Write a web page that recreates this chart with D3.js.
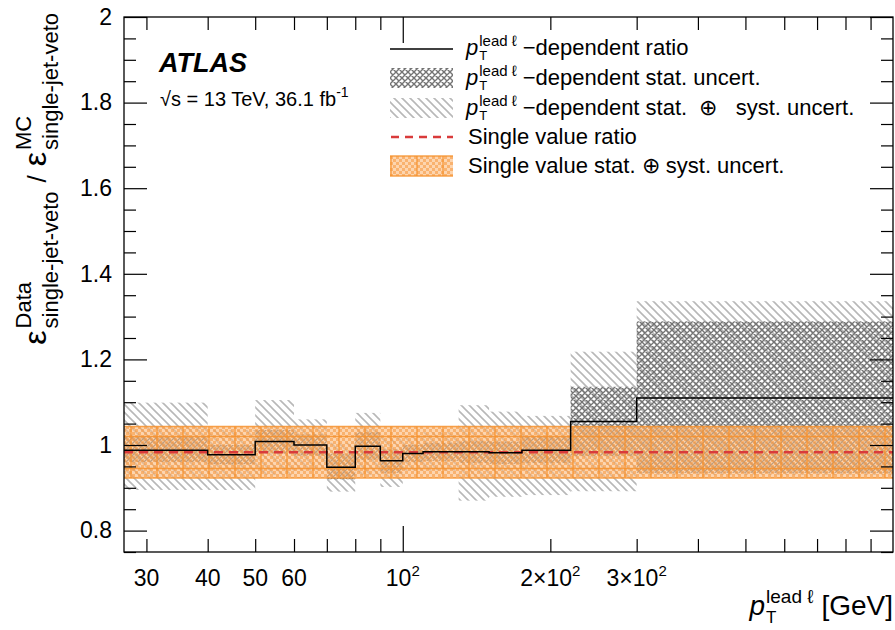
<!DOCTYPE html>
<html>
<head>
<meta charset="utf-8">
<script src="https://cdn.jsdelivr.net/npm/d3@7"></script>
<style>
  body { margin: 0; background: #fff; }
  text { font-family: "Liberation Sans", Arial, Helvetica, sans-serif; fill: #000; white-space: pre; }
</style>
</head>
<body>
<svg id="chart" width="895" height="630"></svg>
<script>
// bins in pT lead lepton [GeV]
var binEdges = [27, 40, 50, 60, 70, 80, 90, 100, 110, 130, 150, 175, 220, 300, 1000];
var ratio  = [0.988, 0.977, 1.008, 1.000, 0.948, 0.997, 0.963, 0.980, 0.984, 0.984, 0.982, 0.988, 1.055, 1.110];
var statHi = [1.020, 1.000, 1.035, 1.025, 0.980, 1.030, 0.990, 1.000, 1.005, 1.010, 1.008, 1.020, 1.136, 1.289];
var statLo = [0.960, 0.955, 0.980, 0.975, 0.920, 0.965, 0.935, 0.960, 0.963, 0.958, 0.956, 0.958, 0.974, 0.935];
var totHi  = [1.099, 1.035, 1.105, 1.060, 1.005, 1.075, 1.020, 1.020, 1.030, 1.093, 1.078, 1.068, 1.218, 1.336];
var totLo  = [0.895, 0.895, 0.930, 0.940, 0.891, 0.930, 0.902, 0.940, 0.940, 0.870, 0.879, 0.883, 0.892, 0.930];

var singleValue = 0.983;
var singleUnc = 0.06;

var xTickValues = [30, 40, 50, 60, 70, 80, 90, 100, 200, 300, 400, 500, 600, 700, 800, 900];
var xTickLabels = [[30, "30", ""], [40, "40", ""], [50, "50", ""], [60, "60", ""],
                   [100, "10", "2"], [200, "2\u00d710", "2"], [300, "3\u00d710", "2"]];
var yMajorTicks = [0.8, 1.0, 1.2, 1.4, 1.6, 1.8, 2.0];
var yMinorTicks = d3.range(0, 26).map(function(i){ return +(0.75 + i * 0.05).toFixed(2); });

var legendRows = [
  {kind: "line",   pt: true,  text: "\u2212dependent ratio"},
  {kind: "stat",   pt: true,  text: "\u2212dependent stat. uncert."},
  {kind: "syst",   pt: true,  text: "\u2212dependent stat.  \u2295   syst. uncert."},
  {kind: "dash",   pt: false, text: "Single value ratio"},
  {kind: "orange", pt: false, text: "Single value stat. \u2295 syst. uncert."}
];

var W = 895, H = 630;
var margin = {top: 17, right: 2, bottom: 78, left: 124};

var svg = d3.select("#chart");

var x = d3.scaleLog()
    .domain([binEdges[0], binEdges[binEdges.length - 1]])
    .range([margin.left, W - margin.right]);
var y = d3.scaleLinear()
    .domain([0.75, 2])
    .range([H - margin.bottom, margin.top]);

var bins = d3.range(ratio.length).map(function(i){
  return {lo: binEdges[i], hi: binEdges[i + 1], v: ratio[i],
          sHi: statHi[i], sLo: statLo[i], tHi: totHi[i], tLo: totLo[i]};
});

// ---- patterns ----
var defs = svg.append("defs");
defs.append("clipPath").attr("id", "plotClip").append("rect")
    .attr("x", margin.left).attr("y", margin.top)
    .attr("width", W - margin.left - margin.right)
    .attr("height", H - margin.top - margin.bottom);

var pSyst = defs.append("pattern").attr("id", "hatchSyst")
    .attr("patternUnits", "userSpaceOnUse").attr("width", 8).attr("height", 8);
pSyst.append("path").attr("d", "M-1,-1L9,9M-1,7L1,9M7,-1L9,1")
    .attr("stroke", "#b8b8b8").attr("stroke-width", 1.6);

var pStat = defs.append("pattern").attr("id", "hatchStat")
    .attr("patternUnits", "userSpaceOnUse").attr("width", 6).attr("height", 6);
pStat.append("path").attr("d", "M-1,-1L7,7M5,-1L7,1M-1,5L1,7M-1,7L7,-1M-1,1L1,-1M5,7L7,5")
    .attr("stroke", "#747474").attr("stroke-width", 1.4);

var pCheck = defs.append("pattern").attr("id", "orangeCheck")
    .attr("patternUnits", "userSpaceOnUse").attr("width", 6).attr("height", 6);
pCheck.append("rect").attr("x", 0).attr("y", 0).attr("width", 3).attr("height", 3).attr("fill", "#f79a45");
pCheck.append("rect").attr("x", 3).attr("y", 3).attr("width", 3).attr("height", 3).attr("fill", "#f79a45");

var pLines = defs.append("pattern").attr("id", "orangeLines")
    .attr("patternUnits", "userSpaceOnUse").attr("width", 26).attr("height", 10);
pLines.append("line").attr("x1", 1).attr("x2", 1).attr("y1", 0).attr("y2", 10)
    .attr("stroke", "#f6922e").attr("stroke-width", 1.5);

function drawOrange(g, x0, y0, w, h, inner) {
  g.append("rect").attr("x", x0).attr("y", y0).attr("width", w).attr("height", h)
      .attr("fill", "#fbb979").attr("fill-opacity", 0.6);
  g.append("rect").attr("x", x0).attr("y", y0).attr("width", w).attr("height", h)
      .attr("fill", "url(#orangeCheck)").attr("fill-opacity", 0.6);
  g.append("rect").attr("x", x0).attr("y", y0).attr("width", w).attr("height", h)
      .attr("fill", "url(#orangeLines)").attr("fill-opacity", 0.8);
  var ys = [y0, y0 + h].concat(inner || []);
  ys.forEach(function(yy){
    g.append("line").attr("x1", x0).attr("x2", x0 + w).attr("y1", yy).attr("y2", yy)
        .attr("stroke", "#f6922e").attr("stroke-width", 1.5).attr("stroke-opacity", 0.85);
  });
}

// ---- plot content ----
var plot = svg.append("g").attr("clip-path", "url(#plotClip)");

plot.selectAll("rect.syst").data(bins).enter().append("rect")
    .attr("class", "syst")
    .attr("x", function(d){ return x(d.lo); })
    .attr("width", function(d){ return x(d.hi) - x(d.lo); })
    .attr("y", function(d){ return y(d.tHi); })
    .attr("height", function(d){ return y(d.tLo) - y(d.tHi); })
    .attr("fill", "url(#hatchSyst)");

plot.selectAll("rect.stat").data(bins).enter().append("rect")
    .attr("class", "stat")
    .attr("x", function(d){ return x(d.lo); })
    .attr("width", function(d){ return x(d.hi) - x(d.lo); })
    .attr("y", function(d){ return y(d.sHi); })
    .attr("height", function(d){ return y(d.sLo) - y(d.sHi); })
    .attr("fill", "url(#hatchStat)");

var bandG = plot.append("g");
drawOrange(bandG, x.range()[0], y(singleValue + singleUnc), x.range()[1] - x.range()[0],
           y(singleValue - singleUnc) - y(singleValue + singleUnc),
           [y(1.02), y(0.945)]);

plot.append("line")
    .attr("x1", x.range()[0]).attr("x2", x.range()[1])
    .attr("y1", y(singleValue)).attr("y2", y(singleValue))
    .attr("stroke", "#d93b3b").attr("stroke-width", 2.5)
    .attr("stroke-dasharray", "9,6");

var stepPts = bins.map(function(d){ return [d.lo, d.v]; });
stepPts.push([bins[bins.length - 1].hi, bins[bins.length - 1].v]);
var stepLine = d3.line()
    .x(function(d){ return x(d[0]); })
    .y(function(d){ return y(d[1]); })
    .curve(d3.curveStepAfter);
plot.append("path").attr("d", stepLine(stepPts))
    .attr("fill", "none").attr("stroke", "#000").attr("stroke-width", 1.5);

// ---- axes ----
function tidy(g) {
  g.select(".domain").remove();
  g.selectAll(".tick line").attr("stroke", "#000").attr("stroke-width", 1.2);
}
var xLen = function(v){ return v === 100 ? 26 : 13; };

var gxb = svg.append("g").attr("transform", "translate(0," + (H - margin.bottom) + ")")
    .call(d3.axisBottom(x).tickValues(xTickValues).tickFormat("").tickSizeInner(-13).tickSizeOuter(0));
tidy(gxb);
gxb.selectAll(".tick line").attr("y2", function(v){ return -xLen(v); });

var gxt = svg.append("g").attr("transform", "translate(0," + margin.top + ")")
    .call(d3.axisTop(x).tickValues(xTickValues).tickFormat("").tickSizeInner(-13).tickSizeOuter(0));
tidy(gxt);
gxt.selectAll(".tick line").attr("y2", function(v){ return xLen(v); });

var minorOnly = yMinorTicks.filter(function(v){
  return yMajorTicks.every(function(m){ return Math.abs(m - v) > 1e-6; });
});

var gyl = svg.append("g").attr("transform", "translate(" + margin.left + ",0)")
    .call(d3.axisLeft(y).tickValues(minorOnly).tickFormat("").tickSizeInner(-12).tickSizeOuter(0));
tidy(gyl);
var gylM = svg.append("g").attr("transform", "translate(" + margin.left + ",0)")
    .call(d3.axisLeft(y).tickValues(yMajorTicks)
      .tickFormat(function(v){ return v === 1 || v === 2 ? d3.format("d")(v) : d3.format(".1f")(v); })
      .tickSizeInner(-23).tickSizeOuter(0).tickPadding(12));
tidy(gylM);
gylM.attr("font-size", null).attr("font-family", null);
gylM.selectAll(".tick text").style("font-size", "23px").attr("fill", "#000");

var gyr = svg.append("g").attr("transform", "translate(" + (W - margin.right) + ",0)")
    .call(d3.axisRight(y).tickValues(minorOnly).tickFormat("").tickSizeInner(-12).tickSizeOuter(0));
tidy(gyr);
var gyrM = svg.append("g").attr("transform", "translate(" + (W - margin.right) + ",0)")
    .call(d3.axisRight(y).tickValues(yMajorTicks).tickFormat("").tickSizeInner(-23).tickSizeOuter(0));
tidy(gyrM);

// x tick labels
var xl = svg.append("g");
xTickLabels.forEach(function(t){
  var tx = xl.append("text").attr("x", x(t[0])).attr("y", 586)
      .attr("text-anchor", "middle").style("font-size", "23px");
  tx.append("tspan").text(t[1]);
  if (t[2]) tx.append("tspan").attr("dy", -10).style("font-size", "15px").text(t[2]);
});

// frame
svg.append("rect")
    .attr("x", margin.left).attr("y", margin.top)
    .attr("width", W - margin.left - margin.right)
    .attr("height", H - margin.top - margin.bottom)
    .attr("fill", "none").attr("stroke", "#000").attr("stroke-width", 1.3);

// ---- rich text helpers ----
function ptLabel(g, x0, yb, size, supSize, supK, subK) {
  var p = g.append("text").attr("x", x0).attr("y", yb)
      .style("font-size", size + "px").style("font-style", "italic").text("p");
  var px = x0 + p.node().getComputedTextLength() + 1;
  var sup = g.append("text").attr("x", px).attr("y", yb - size * supK)
      .style("font-size", supSize + "px").text("lead \u2113");
  var sub = g.append("text").attr("x", px).attr("y", yb + size * subK)
      .style("font-size", (supSize - 2) + "px").text("T");
  return px + Math.max(sup.node().getComputedTextLength(), sub.node().getComputedTextLength()) + 2;
}

// legend
var leg = svg.append("g");
var rowY = [48, 78, 108, 137, 166];
legendRows.forEach(function(r, i){
  var cy = rowY[i];
  if (r.kind === "line") {
    leg.append("line").attr("x1", 390).attr("x2", 453).attr("y1", cy + 1).attr("y2", cy + 1)
        .attr("stroke", "#000").attr("stroke-width", 1.5);
  } else if (r.kind === "dash") {
    leg.append("line").attr("x1", 391).attr("x2", 453).attr("y1", cy).attr("y2", cy)
        .attr("stroke", "#d93b3b").attr("stroke-width", 2.5).attr("stroke-dasharray", "8,6");
  } else if (r.kind === "orange") {
    drawOrange(leg, 390, cy - 10, 63, 20, []);
  } else {
    leg.append("rect").attr("x", 390).attr("y", cy - 10).attr("width", 63).attr("height", 20)
        .attr("fill", r.kind === "stat" ? "url(#hatchStat)" : "url(#hatchSyst)");
  }
  var tx = 468;
  if (r.pt) tx = ptLabel(leg, 466, cy + 7, 22, 15, 0.40, 0.24) + 4;
  leg.append("text").attr("x", tx).attr("y", cy + 7).style("font-size", "22px").text(r.text);
});

// ATLAS label
svg.append("text").attr("x", 159).attr("y", 72)
    .style("font-size", "27px").style("font-weight", "bold").style("font-style", "italic")
    .text("ATLAS");
var lumi = svg.append("text").attr("x", 160).attr("y", 106).style("font-size", "20px");
lumi.append("tspan").text("\u221as = 13 TeV, 36.1 fb");
lumi.append("tspan").attr("dy", -9).style("font-size", "14px").text("-1");

// x axis title, right aligned
var xt = svg.append("g");
var xe = ptLabel(xt, 0, 615, 28, 19, 0.44, 0.27);
var ge = xt.append("text").attr("x", xe + 6).attr("y", 615).style("font-size", "28px").text("[GeV]");
var xw = xe + 6 + ge.node().getComputedTextLength();
xt.attr("transform", "translate(" + (W - margin.right - xw) + ",0)");

// y axis title, rotated, aligned to top
var yt = svg.append("g");
var u = 0;
function eps(sup, sub) {
  var e = yt.append("text").attr("x", u).attr("y", 0).style("font-size", "32px").text("\u03b5");
  u += e.node().getComputedTextLength() + 2;
  var a = yt.append("text").attr("x", u).attr("y", -15).style("font-size", "22px").text(sup);
  var b = yt.append("text").attr("x", u).attr("y", 12).style("font-size", "22px").text(sub);
  u += Math.max(a.node().getComputedTextLength(), b.node().getComputedTextLength());
}
eps("Data", "single-jet-veto");
var sl = yt.append("text").attr("x", u + 9).attr("y", 0).style("font-size", "26px").text("/");
u += 9 + sl.node().getComputedTextLength() + 9;
eps("MC", "single-jet-veto");
yt.attr("transform", "translate(46," + (13 + u) + ") rotate(-90)");
</script>
</body>
</html>
